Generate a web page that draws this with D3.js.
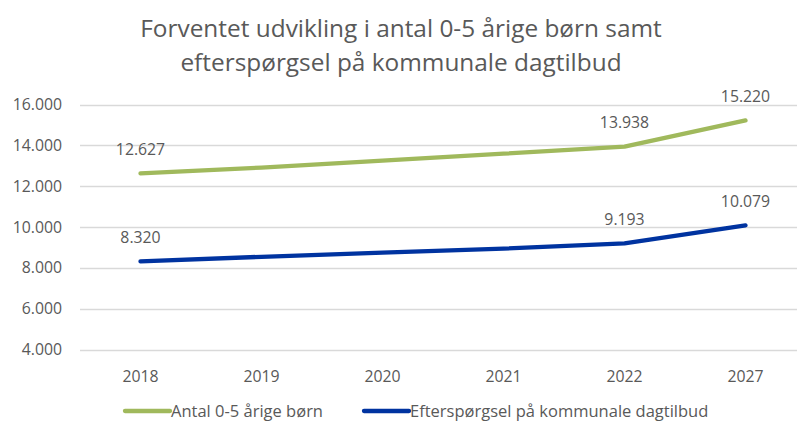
<!DOCTYPE html>
<html>
<head>
<meta charset="utf-8">
<script src="https://cdn.jsdelivr.net/npm/d3@7"></script>
<style>
  body { margin: 0; background: #fff; }
  svg text { font-family: "Open Sans", Lato, sans-serif; fill: #595959; }
</style>
</head>
<body>
<svg class="chart"></svg>
<script>
const years = ["2018", "2019", "2020", "2021", "2022", "2027"]
const boern = [12627, 12910, 13250, 13590, 13938, 15220]
const efterspoergsel = [8320, 8540, 8740, 8940, 9193, 10079]
const yTicks = [4000, 6000, 8000, 10000, 12000, 14000, 16000]
const labelledYears = ["2018", "2022", "2027"]

const titleLines = ["Forventet udvikling i antal 0-5 årige børn samt", "efterspørgsel på kommunale dagtilbud"]
const seriesNames = ["Antal 0-5 årige børn", "Efterspørgsel på kommunale dagtilbud"]
const colors = ["#A0B95C", "#0033A0"]

const width = 797, height = 423

const svg = d3.select("svg.chart")
    .attr("width", width)
    .attr("height", height)

// danish number format: 12.627
const fmt = d3.formatLocale({decimal: ",", thousands: ".", grouping: [3], currency: ["", " kr"]}).format(",d")

const x = d3.scaleBand()
    .domain(years)
    .range([80, 806])

const y = d3.scaleLinear()
    .domain([4000, 16000])
    .range([349.5, 104.5])

// title
svg.append("g")
    .selectAll("text")
    .data(titleLines)
    .enter()
    .append("text")
    .attr("x", 401)
    .attr("y", (d, i) => 37 + i * 34)
    .attr("text-anchor", "middle")
    .style("font-size", "24.4px")
    .text(d => d)

// gridlines
svg.append("g")
    .selectAll("line")
    .data(yTicks)
    .enter()
    .append("line")
    .attr("x1", 80)
    .attr("x2", width)
    .attr("y1", d => Math.round(y(d)) + 0.5)
    .attr("y2", d => Math.round(y(d)) + 0.5)
    .attr("stroke", "#D9D9D9")
    .attr("stroke-width", 1.3)

// y axis labels
svg.append("g")
    .selectAll("text")
    .data(yTicks)
    .enter()
    .append("text")
    .attr("x", 62)
    .attr("y", d => y(d))
    .attr("dy", "0.35em")
    .attr("text-anchor", "end")
    .style("font-size", "15.8px")
    .text(d => fmt(d))

// x axis labels
svg.append("g")
    .selectAll("text")
    .data(years)
    .enter()
    .append("text")
    .attr("x", d => x(d) + x.bandwidth() / 2)
    .attr("y", 376)
    .attr("dy", "0.35em")
    .attr("text-anchor", "middle")
    .style("font-size", "15.8px")
    .text(d => d)

const series = [boern, efterspoergsel]

const lineGen = d3.line()
    .x((d, i) => x(years[i]) + x.bandwidth() / 2)
    .y(d => y(d))

svg.append("g")
    .selectAll("path")
    .data(series)
    .enter()
    .append("path")
    .attr("d", lineGen)
    .attr("fill", "none")
    .attr("stroke", (d, i) => colors[i])
    .attr("stroke-width", 4.3)
    .attr("stroke-linecap", "round")
    .attr("stroke-linejoin", "round")

// data labels on selected years
series.forEach((values, s) => {
    svg.append("g")
        .selectAll("text")
        .data(values.map((v, i) => ({year: years[i], value: v})).filter(d => labelledYears.includes(d.year)))
        .enter()
        .append("text")
        .attr("x", d => x(d.year) + x.bandwidth() / 2)
        .attr("y", d => y(d.value) - 24)
        .attr("dy", "0.35em")
        .attr("text-anchor", "middle")
        .style("font-size", "15.8px")
        .text(d => fmt(d.value))
})

// legend
const legendItems = [{x: 125, name: seriesNames[0], color: colors[0]}, {x: 364, name: seriesNames[1], color: colors[1]}]

const legend = svg.append("g")
    .selectAll("g")
    .data(legendItems)
    .enter()
    .append("g")
    .attr("transform", d => `translate(${d.x},411)`)

legend.append("line")
    .attr("x1", 0)
    .attr("x2", 45)
    .attr("stroke", d => d.color)
    .attr("stroke-width", 4.3)
    .attr("stroke-linecap", "round")

legend.append("text")
    .attr("x", 46)
    .attr("dy", "0.35em")
    .style("font-size", "16.5px")
    .text(d => d.name)
</script>
</body>
</html>
